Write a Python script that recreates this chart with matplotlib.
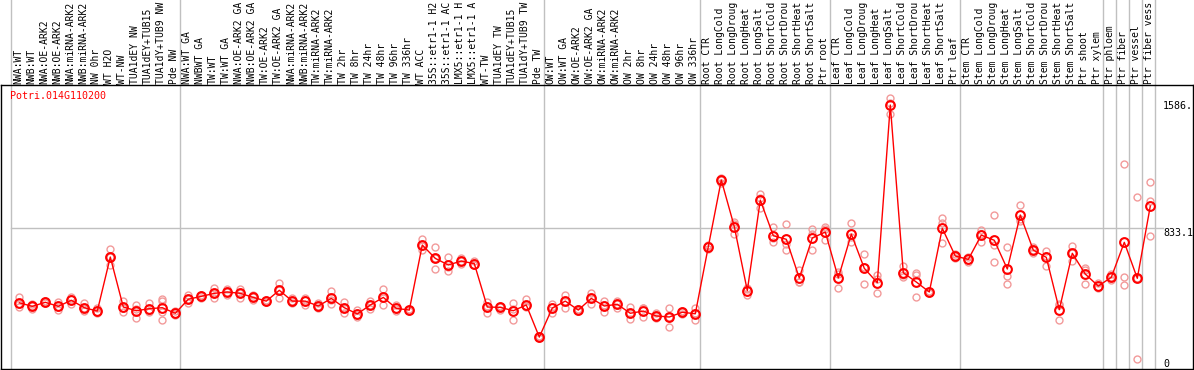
import matplotlib
matplotlib.use("Agg")
import matplotlib.pyplot as plt

gene = "Potri.014G110200"

# labels as they appear in the header (long ones are cut short there)
labels = [
    "NWA:WT", "NWB:WT", "NWA:OE-ARK2", "NWB:OE-ARK2", "NWA:miRNA-ARK2",
    "NWB:miRNA-ARK2", "NW 0hr", "WT H2O", "WT-NW", "TUA1dEY NW",
    "TUA1dEY+TUB15", "TUA1dY+TUB9 NW", "Pde NW", "NWA:WT GA", "NWBWT GA",
    "TW:WT", "TW:WT GA", "NWA:OE-ARK2 GA", "NWB:OE-ARK2 GA", "TW:OE-ARK2",
    "TW:OE-ARK2 GA", "NWA:miRNA-ARK2", "NWB:miRNA-ARK2", "TW:miRNA-ARK2",
    "TW:miRNA-ARK2", "TW 2hr", "TW 8hr", "TW 24hr", "TW 48hr", "TW 96hr",
    "TW 336hr", "WT ACC", "35S::etr1-1 H2", "35S::etr1-1 AC",
    "LMX5::etr1-1 H", "LMX5::etr1-1 A", "WT-TW", "TUA1dEY TW",
    "TUA1dEY+TUB15", "TUA1dY+TUB9 TW", "Pde TW", "OW:WT", "OW:WT GA",
    "OW:OE-ARK2", "OW:OE-ARK2 GA", "OW:miRNA-ARK2", "OW:miRNA-ARK2",
    "OW 2hr", "OW 8hr", "OW 24hr", "OW 48hr", "OW 96hr", "OW 336hr",
    "Root CTR", "Root LongCold", "Root LongDroug", "Root LongHeat",
    "Root LongSalt", "Root ShortCold", "Root ShortDrou", "Root ShortHeat",
    "Root ShortSalt", "Ptr root", "Leaf CTR", "Leaf LongCold",
    "Leaf LongDroug", "Leaf LongHeat", "Leaf LongSalt", "Leaf ShortCold",
    "Leaf ShortDrou", "Leaf ShortHeat", "Leaf ShortSalt", "Ptr leaf",
    "Stem CTR", "Stem LongCold", "Stem LongDroug", "Stem LongHeat",
    "Stem LongSalt", "Stem ShortCold", "Stem ShortDrou", "Stem ShortHeat",
    "Stem ShortSalt", "Ptr shoot", "Ptr xylem", "Ptr phloem", "Ptr fiber",
    "Ptr vessel", "Ptr fiber vess",
]

means = [
    392, 371, 395, 371, 407, 363, 343, 663, 367, 345,
    357, 363, 330, 413, 430, 448, 456, 448, 424, 402,
    466, 402, 402, 373, 418, 363, 326, 379, 424, 359,
    349, 734, 655, 616, 639, 624, 367, 365, 345, 379,
    189, 361, 402, 349, 418, 373, 383, 330, 343, 314,
    308, 336, 327, 724, 1119, 843, 464, 1000, 789, 768,
    539, 776, 811, 539, 799, 596, 511, 1563, 570, 515,
    456, 833, 669, 649, 793, 762, 592, 912, 704, 661,
    351, 685, 562, 491, 543, 750, 537, 965,
]

reps = [
    [424, 383, 369], [385, 375, 353], [401, 395, 389], [395, 369, 349],
    [424, 414, 383], [389, 359, 341], [363, 336, 330], [709, 666, 614],
    [405, 359, 337], [379, 355, 302], [393, 343, 335], [416, 405, 340, 290],
    [345, 325, 320], [438, 413, 389], [440, 430, 420], [478, 448, 418],
    [472, 456, 438], [472, 450, 422], [438, 424, 410], [408, 402, 396],
    [509, 470, 418], [418, 400, 389], [418, 408, 379], [389, 373, 363],
    [462, 410, 383], [399, 360, 330], [349, 320, 310], [405, 379, 353],
    [474, 422, 377], [379, 357, 341], [355, 349, 343], [770, 728, 704],
    [720, 655, 594], [663, 606, 582], [655, 640, 620], [639, 618, 616],
    [399, 372, 330], [375, 365, 349], [389, 355, 290], [414, 375, 369],
    [195, 189, 183], [383, 370, 330], [438, 405, 363], [355, 349, 343],
    [452, 418, 383], [403, 377, 339], [405, 385, 359], [365, 330, 294],
    [363, 360, 306], [330, 314, 300], [363, 310, 251], [345, 336, 328],
    [363, 330, 290], [734, 728, 709], [1133, 1121, 1103], [872, 858, 799],
    [480, 474, 438], [1036, 1010, 955], [843, 775, 750], [858, 742, 704],
    [586, 518, 513], [829, 797, 703], [843, 828, 762], [576, 563, 478],
    [862, 781, 754], [681, 605, 503], [554, 531, 448], [1602, 1577, 1510],
    [610, 554, 546], [566, 555, 424], [460, 456, 452], [892, 863, 744],
    [681, 670, 655], [665, 648, 635], [823, 802, 754], [912, 734, 631],
    [720, 552, 503], [971, 890, 875], [724, 703, 686], [700, 672, 610],
    [385, 379, 290], [728, 688, 639], [596, 588, 503], [511, 484, 478],
    [560, 543, 527], [1212, 543, 498], [1016, 537, 57], [1107, 994, 789],
]

# number of columns before each grey separator
group_ends = [0, 13, 41, 53, 63, 73, 84, 85, 86, 87, 88]
ytick_vals = [1586, 833.1, 0]
ytick_text = ["1586.", "833.1", "0"]

W, H = 1194, 370
fig = plt.figure(figsize=(W / 100, H / 100), dpi=100)
ax = fig.add_axes([1 / W, 1 / H, 1192 / W, 284 / H])

mono = "DejaVu Sans Mono"
fs = 7
pink = "#f29a9a"

# pixel layout: column i has its point at 19.3 + 13*i
ax.set_xlim((1 - 19.3) / 13, (1193 - 19.3) / 13)
ax.set_ylim(0, 284 * 833.1 / 140.7)
ax.set_xticks([])
ax.set_yticks([])
for s in ax.spines.values():
    s.set_linewidth(1.0)
    s.set_color("black")

xs = list(range(len(means)))

# separators (extend up through the header)
for k in group_ends:
    ax.axvline(k - 0.638, ymin=0, ymax=370 / 284, color="#c0c0c0",
               lw=1, clip_on=False, zorder=1)
ax.axhline(833.1, xmin=10 / 1192, xmax=1162 / 1192, color="#c0c0c0",
           lw=1, zorder=1)

for x, r in zip(xs, reps):
    ax.plot([x] * len(r), r, "o", ms=5, mfc="none", mec=pink, mew=1,
            zorder=2)
ax.plot(xs, means, "-", color="red", lw=1, zorder=3)
ax.plot(xs, means, "o", ms=6.3, mfc="none", mec="red", mew=1.5, zorder=4)

# header labels
for x, lab in zip(xs, labels):
    ax.annotate(lab, xy=(x - 0.1, 1), xycoords=("data", "axes fraction"),
                xytext=(0, 1), textcoords="offset pixels", rotation=90,
                ha="center", va="bottom", family=mono, fontsize=fs,
                annotation_clip=False)

ax.text(9 / 1192, 1 - 6 / 284, gene, transform=ax.transAxes, color="red",
        family=mono, fontsize=7.2, ha="left", va="top")

for v, t in zip(ytick_vals, ytick_text):
    ax.text(1162 / 1192, v, t, transform=ax.get_yaxis_transform(),
            family=mono, fontsize=7.2, ha="left",
            va="bottom" if v == 0 else "top")

fig.savefig("out.png", dpi=100)
